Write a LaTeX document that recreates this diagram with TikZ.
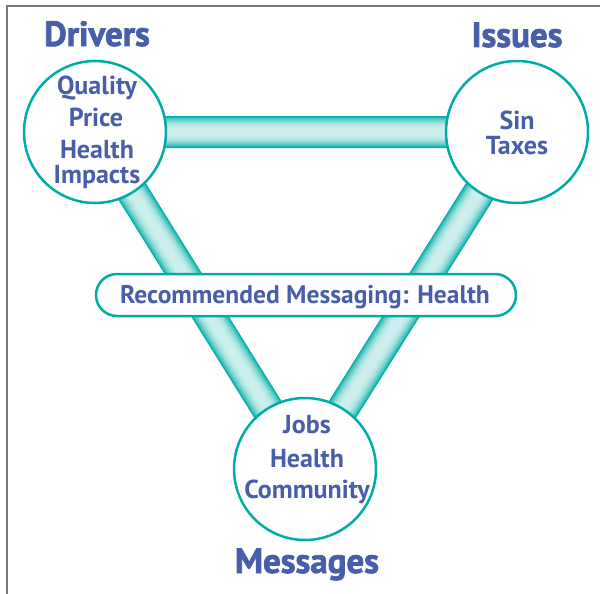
\documentclass[tikz,border=0pt]{standalone}
\usepackage{fontspec}
\setmainfont{PT Sans}
\newfontfamily\headfont{PT Sans}[BoldFeatures={FakeBold=2}]
\usetikzlibrary{backgrounds}
\definecolor{tealline}{RGB}{0,173,166}
\definecolor{labelblue}{RGB}{72,94,170}
\definecolor{framegray}{RGB}{120,120,120}
\tikzset{
  hub/.style={circle, draw=tealline, line width=2.5pt, fill=white,
              minimum size=142pt, inner sep=0pt},
  pill/.style={rectangle, rounded corners=21pt, draw=tealline, line width=2.5pt,
               fill=white, minimum width=420pt, minimum height=42pt, inner sep=0pt},
  title/.style={anchor=base, inner sep=0pt, text=labelblue,
                font=\headfont\bfseries\fontsize{35pt}{35pt}\selectfont},
  item/.style={anchor=base, inner sep=0pt, text=labelblue,
               font=\bfseries\fontsize{26pt}{26pt}\selectfont},
  banner/.style={anchor=base, inner sep=0pt, text=labelblue,
                 font=\bfseries\fontsize{25.5pt}{25.5pt}\selectfont}
}
\begin{document}
\begin{tikzpicture}[x=1pt, y=-1pt]
\useasboundingbox (0,0) rectangle (600,594);
% frame
\draw[framegray, line width=2pt] (7,594) -- (7,6) -- (600,6);

% the three hubs
\node[hub] (drv) at (95,132) {};
\node[hub] (iss) at (517,132) {};
\node[hub] (msg) at (305,469) {};

% tube-like links between hubs, shaded by stacking strokes
\begin{pgfonlayer}{background}
\foreach \i in {0,...,15}{
  \pgfmathsetmacro\w{32*(1-\i/16)}
  \pgfmathtruncatemacro\p{20+80*(1-\i/15)^2.5}
  \draw[line width=\w pt, draw=tealline!\p!white]
    (drv.center) -- (iss.center)
    (drv.center) -- (msg.center)
    (iss.center) -- (msg.center);
}
\end{pgfonlayer}

% headings
\node[title] (tdrv) at (97,46) {Drivers};
\node[title] (tiss) at (517,47) {Issues};
\node[title] (tmsg) at (307,573) {Messages};

% hub contents
\node[item] (d1) at (97,95) {Quality};
\node[item] (d2) at (96,126) {Price};
\node[item] (d3) at (97,158) {Health};
\node[item] (d4) at (97,183) {Impacts};

\node[item] (i1) at (517,129) {Sin};
\node[item] (i2) at (517,154) {Taxes};

\node[item] (m1) at (307,433) {Jobs};
\node[item] (m2) at (307,467) {Health};
\node[item] (m3) at (307,498) {Community};

% banner across the links
\node[pill] (rec) at (306,295) {};
\node[banner] (rectxt) at (305,303) {Recommended Messaging: Health};
\end{tikzpicture}
\end{document}
